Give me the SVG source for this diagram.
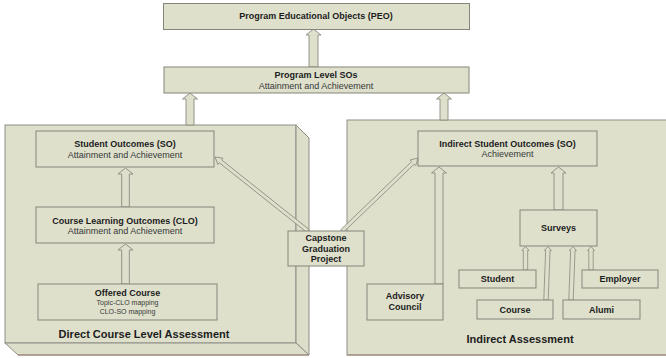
<svg xmlns="http://www.w3.org/2000/svg" width="666" height="358" viewBox="0 0 666 358">
<style>
.outer{fill:#dee0cc;stroke:#8e8e86;stroke-width:1}
.face{fill:#dcdec9;stroke:#8e8e86;stroke-width:1}
.node{fill:#dee0cc;stroke:#85857a;stroke-width:1}
.arr{fill:#dee0cc;stroke:#8a8a7e;stroke-width:0.9;stroke-linejoin:miter}
.sarr{fill:#dee0cc;stroke:#8a8a7e;stroke-width:0.8}
.bottom{stroke:#a08474;stroke-width:1.2;fill:none}
text{font-family:"Liberation Sans",Arial,sans-serif;text-anchor:middle}
.b{font-weight:bold;font-size:9px;fill:#1c1c1c}
.r{font-size:9px;fill:#383838}
.s{font-size:7px;fill:#383838}
.big{font-weight:bold;font-size:11px;fill:#1c1c1c}
</style>
<rect width="666" height="358" fill="#ffffff"/>
<g id="direct-assessment">
<rect class="outer" x="5" y="125" width="291" height="218"/>
<polygon class="face" points="296,125 309,138 309,355 296,343"/>
<polygon class="face" points="5,343 296,343 309,355 18,355"/>
<line class="bottom" x1="18" y1="355" x2="309" y2="355"/>
<text class="big" x="144" y="338">Direct Course Level Assessment</text>
</g>
<g id="indirect-assessment">
<rect class="outer" x="347" y="120" width="325" height="235"/>
<line class="bottom" x1="347" y1="355" x2="666" y2="355"/>
<text class="big" x="520" y="343">Indirect Assessment</text>
</g>
<g id="connectors">
<path class="arr" transform="translate(313.5,29) rotate(-90)" d="M-38,-4.5 L-6,-4.5 L-6,-7.5 L0,0 L-6,7.5 L-6,4.5 L-38,4.5 Z"/>
<path class="arr" transform="translate(190,93) rotate(-90)" d="M-32,-4 L-6,-4 L-6,-7.5 L0,0 L-6,7.5 L-6,4 L-32,4 Z"/>
<path class="arr" transform="translate(444,93) rotate(-90)" d="M-27,-4 L-6,-4 L-6,-7.5 L0,0 L-6,7.5 L-6,4 L-27,4 Z"/>
<path class="arr" transform="translate(125.5,168) rotate(-90)" d="M-39,-3.8 L-6,-3.8 L-6,-7.5 L0,0 L-6,7.5 L-6,3.8 L-39,3.8 Z"/>
<path class="arr" transform="translate(125.5,244) rotate(-90)" d="M-40,-3.8 L-6,-3.8 L-6,-7.5 L0,0 L-6,7.5 L-6,3.8 L-40,3.8 Z"/>
<path class="arr" transform="translate(439,167) rotate(-90)" d="M-117,-4 L-6,-4 L-6,-7.5 L0,0 L-6,7.5 L-6,4 L-117,4 Z"/>
<path class="arr" transform="translate(558.5,167) rotate(-90)" d="M-43,-4.5 L-6,-4.5 L-6,-7.5 L0,0 L-6,7.5 L-6,4.5 L-43,4.5 Z"/>
<path class="sarr" transform="translate(215,157) rotate(-141.5)" d="M-118.8,-1.8 L-7,-1.8 L-7,-4 L0,0 L-7,4 L-7,1.8 L-118.8,1.8 Z"/>
<path class="sarr" transform="translate(418,158) rotate(-43.85)" d="M-105.4,-1.8 L-7,-1.8 L-7,-4 L0,0 L-7,4 L-7,1.8 L-105.4,1.8 Z"/>
<path class="sarr" transform="translate(525.5,246.5) rotate(-90)" d="M-23.5,-2.2 L-4,-2.2 L-4,-3.5 L0,0 L-4,3.5 L-4,2.2 L-23.5,2.2 Z"/>
<path class="sarr" transform="translate(591,246.5) rotate(-90)" d="M-23.5,-2.2 L-4,-2.2 L-4,-3.5 L0,0 L-4,3.5 L-4,2.2 L-23.5,2.2 Z"/>
<path class="sarr" transform="translate(548,246.5) rotate(-87.86)" d="M-53.5,-2.2 L-4,-2.2 L-4,-3.5 L0,0 L-4,3.5 L-4,2.2 L-53.5,2.2 Z"/>
<path class="sarr" transform="translate(573,246.5) rotate(-87.86)" d="M-53.5,-2.2 L-4,-2.2 L-4,-3.5 L0,0 L-4,3.5 L-4,2.2 L-53.5,2.2 Z"/>
</g>
<g id="peo">
<rect class="node" x="163.5" y="3.5" width="306" height="26"/>
<text class="b" x="316" y="19.3">Program Educational Objects (PEO)</text>
</g>
<g id="program-level-sos">
<rect class="node" x="164" y="67" width="305" height="26"/>
<text class="b" x="316" y="77.5">Program Level SOs</text>
<text class="r" x="316" y="88.5">Attainment and Achievement</text>
</g>
<g id="student-outcomes">
<rect class="node" x="36" y="131" width="178" height="36"/>
<text class="b" x="125" y="146.5">Student Outcomes (SO)</text>
<text class="r" x="125" y="157.5">Attainment and Achievement</text>
</g>
<g id="clo">
<rect class="node" x="36" y="207" width="178" height="36"/>
<text class="b" x="125" y="223.5">Course Learning Outcomes (CLO)</text>
<text class="r" x="125" y="234.3">Attainment and Achievement</text>
</g>
<g id="offered-course">
<rect class="node" x="38" y="284" width="179" height="36"/>
<text class="b" x="127.5" y="296">Offered Course</text>
<text class="s" x="127.5" y="305.3">Topic-CLO mapping</text>
<text class="s" x="127.5" y="313.8">CLO-SO mapping</text>
</g>
<g id="capstone">
<rect class="node" x="288" y="231" width="76" height="35"/>
<text class="b" x="326" y="240.5">Capstone</text>
<text class="b" x="326" y="251.5">Graduation</text>
<text class="b" x="326" y="262.3">Project</text>
</g>
<g id="indirect-so">
<rect class="node" x="418" y="131" width="179" height="35"/>
<text class="b" x="507.5" y="146.5">Indirect Student Outcomes (SO)</text>
<text class="r" x="507.5" y="157.3">Achievement</text>
</g>
<g id="advisory-council">
<rect class="node" x="367" y="284" width="76" height="36"/>
<text class="b" x="405" y="299.2">Advisory</text>
<text class="b" x="405" y="310">Council</text>
</g>
<g id="surveys">
<rect class="node" x="520" y="210" width="77" height="36"/>
<text class="b" x="558.5" y="230.5">Surveys</text>
</g>
<g id="student">
<rect class="node" x="459" y="270" width="77" height="18"/>
<text class="b" x="497.5" y="282">Student</text>
</g>
<g id="employer">
<rect class="node" x="582" y="270" width="76" height="18"/>
<text class="b" x="620" y="282">Employer</text>
</g>
<g id="course">
<rect class="node" x="477" y="300" width="76" height="19"/>
<text class="b" x="515" y="312.8">Course</text>
</g>
<g id="alumi">
<rect class="node" x="563" y="300" width="77" height="19"/>
<text class="b" x="601.5" y="312.8">Alumi</text>
</g>
</svg>
